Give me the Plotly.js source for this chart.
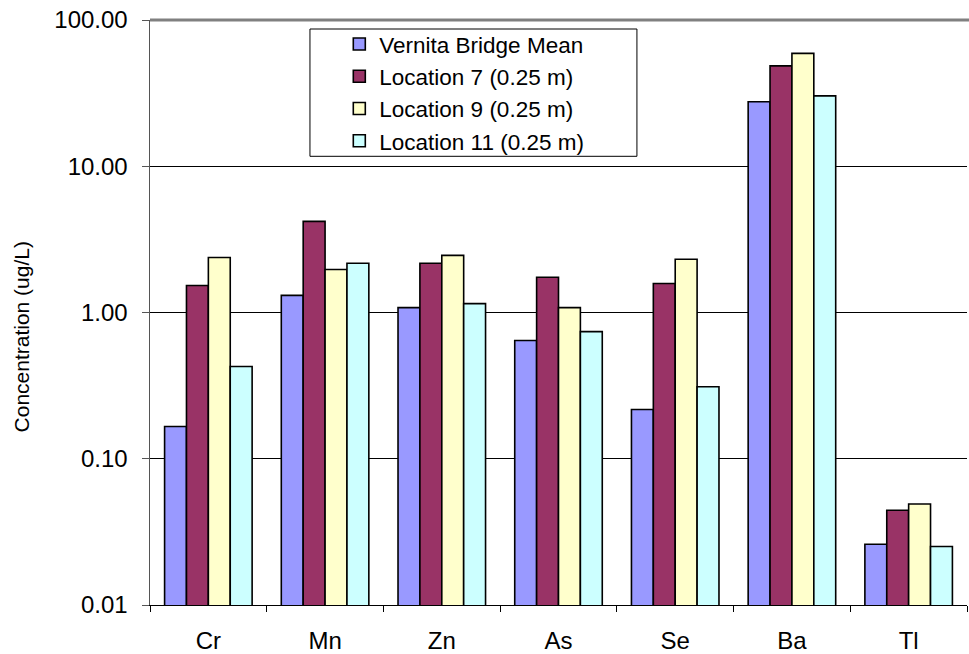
<!DOCTYPE html>
<html>
<head>
<meta charset="utf-8">
<script src="https://cdn.plot.ly/plotly-3.0.1.min.js"></script>
<style>html,body{margin:0;padding:0;background:#fff;}#chart{width:969px;height:654px;}</style>
</head>
<body>
<div id="chart"></div>
<script>
const categories = ["Cr", "Mn", "Zn", "As", "Se", "Ba", "Tl"];
const vernitaBridgeMean = [0.166, 1.31, 1.08, 0.643, 0.217, 27.6, 0.026];
const location7 = [1.53, 4.2, 2.17, 1.74, 1.58, 48.6, 0.0445];
const location9 = [2.38, 1.97, 2.46, 1.08, 2.31, 59.1, 0.049];
const location11 = [0.427, 2.17, 1.15, 0.74, 0.311, 30.3, 0.0251];
const seriesNames = ["Vernita Bridge Mean", "Location 7 (0.25 m)", "Location 9 (0.25 m)", "Location 11 (0.25 m)"];
const yTickVals = [0.01, 0.1, 1, 10, 100];
const yTickText = ["0.01", "0.10", "1.00", "10.00", "100.00"];
const yTitle = "Concentration (ug/L)";

const colors = ["#9999FF", "#993366", "#FFFFCC", "#CCFFFF"];
const seriesData = [vernitaBridgeMean, location7, location9, location11];

const traces = seriesData.map((vals, i) => ({
  type: "bar",
  name: seriesNames[i],
  x: categories,
  y: vals,
  marker: {color: colors[i], line: {color: "#000", width: 1.6}},
  hoverinfo: "x+y+name"
}));

const fam = "Liberation Sans, Arial, sans-serif";

const layout = {
  width: 969, height: 654,
  margin: {l: 150, r: 2, t: 20, b: 49},
  paper_bgcolor: "#fff", plot_bgcolor: "#fff",
  font: {family: fam, size: 20, color: "#000"},
  barmode: "group",
  bargap: 0.25,
  bargroupgap: 0,
  showlegend: true,
  legend: {
    x: 0.2317, y: 0.995, xanchor: "left", yanchor: "top",
    bgcolor: "rgba(0,0,0,0)", borderwidth: 0,
    font: {family: fam, size: 22.5, color: "#000"},
    tracegroupgap: 0
  },
  xaxis: {
    type: "category",
    showline: true, linecolor: "#000", linewidth: 1,
    ticks: "outside", ticklen: 6, tickcolor: "#000",
    tickson: "boundaries",
    ticklabelstandoff: 14,
    showgrid: false,
    tickfont: {family: fam, size: 24, color: "#000"},
    fixedrange: true
  },
  yaxis: {
    type: "log",
    range: [-2, 2],
    tickvals: yTickVals,
    ticktext: yTickText,
    showline: true, linecolor: "#555", linewidth: 1.5,
    ticks: "outside", ticklen: 7, tickcolor: "#555",
    ticklabelstandoff: 9,
    showgrid: true, gridcolor: "#000", gridwidth: 1,
    tickfont: {family: fam, size: 24, color: "#000"},
    fixedrange: true
  },
  annotations: [{
    text: yTitle, xref: "paper", yref: "paper",
    x: -0.1567, y: 0.459, xanchor: "center", yanchor: "middle",
    textangle: -90, showarrow: false,
    font: {family: fam, size: 21, color: "#000"}
  }],
  shapes: [
    {
      type: "line", xref: "paper", yref: "paper",
      x0: 0, x1: 1.01, y0: 1, y1: 1,
      line: {color: "#808080", width: 3}
    },
    {
      type: "rect", xref: "paper", yref: "paper", layer: "below",
      x0: 0.1958, x1: 0.596, y0: 0.767, y1: 0.9846,
      line: {color: "#000", width: 1}, fillcolor: "#fff"
    }
  ]
};

Plotly.newPlot("chart", traces, layout, {displayModeBar: false, staticPlot: true});
</script>
</body>
</html>
